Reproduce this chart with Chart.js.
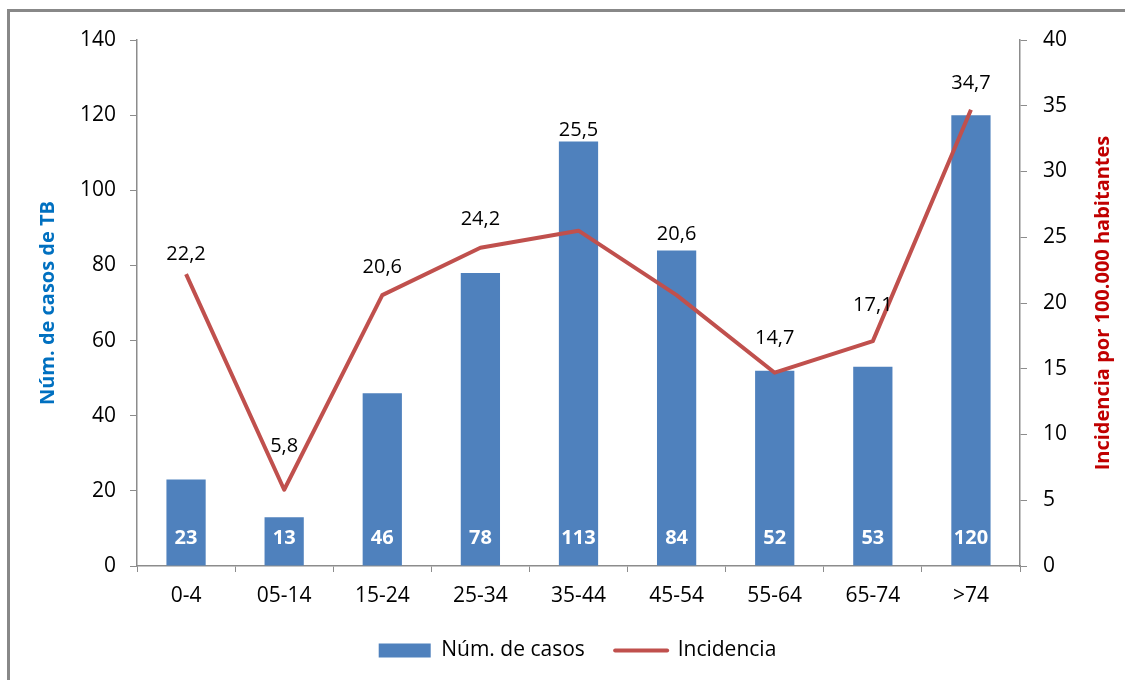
<!DOCTYPE html>
<html>
<head>
<meta charset="utf-8">
<script src="https://cdn.jsdelivr.net/npm/chart.js@4"></script>
<style>
  html, body { margin: 0; padding: 0; background: #fff; overflow: hidden; }
  #wrap { position: relative; width: 1125px; height: 680px; }
</style>
</head>
<body>
<div id="wrap"><canvas id="tbChart" width="1125" height="680"></canvas></div>
<script>
// age groups and values
const ageGroups = ["0-4", "05-14", "15-24", "25-34", "35-44", "45-54", "55-64", "65-74", ">74"];
const casos = [23, 13, 46, 78, 113, 84, 52, 53, 120];
const incidencia = [22.2, 5.8, 20.6, 24.2, 25.5, 20.6, 14.7, 17.1, 34.7];

// how far (px) each incidence label sits above its point, as placed in the original
const labelLift = [20, 43, 28, 28, 100, 61, 34, 36, 26];

const FONT = "'Open Sans', sans-serif";
const BLUE = "#4F81BD";
const RED = "#C0504D";
const AXIS = "#8C8C8C";

const fmt = v => String(v).replace(".", ",");

// frame + right axis title (Excel rotates it bottom-to-top)
const framePlugin = {
    id: "frame",
    beforeDraw(chart) {
        const ctx = chart.ctx;
        ctx.save();
        ctx.fillStyle = "#888";
        ctx.fillRect(7, 9, 3, 680);
        ctx.fillRect(7, 9, 1125, 3);
        ctx.restore();
    },
    afterDraw(chart) {
        const ctx = chart.ctx;
        const area = chart.chartArea;
        ctx.save();
        ctx.translate(1103, (area.top + area.bottom) / 2);
        ctx.rotate(-Math.PI / 2);
        ctx.font = "bold 20px " + FONT;
        ctx.fillStyle = "#C00000";
        ctx.textAlign = "center";
        ctx.textBaseline = "middle";
        ctx.fillText("Incidencia por 100.000 habitantes", 0, 0);
        ctx.restore();
    }
};

// value labels: white inside the bars, black above the line
const labelPlugin = {
    id: "valueLabels",
    afterDatasetsDraw(chart) {
        const ctx = chart.ctx;
        const bars = chart.getDatasetMeta(0).data;
        const pts = chart.getDatasetMeta(1).data;
        ctx.save();
        ctx.textAlign = "center";
        ctx.textBaseline = "middle";

        ctx.font = "bold 20px " + FONT;
        ctx.fillStyle = "#fff";
        bars.forEach((b, i) => {
            ctx.fillText(casos[i], b.x, b.base - 27);
        });

        ctx.font = "20px " + FONT;
        ctx.fillStyle = "#000";
        pts.forEach((p, i) => {
            ctx.fillText(fmt(incidencia[i]), p.x, p.y - labelLift[i]);
        });
        ctx.restore();
    }
};

new Chart(document.getElementById("tbChart"), {
    data: {
        labels: ageGroups,
        datasets: [
            {
                type: "bar",
                label: "Núm. de casos",
                data: casos,
                yAxisID: "y",
                backgroundColor: BLUE,
                barPercentage: 0.4,
                categoryPercentage: 1,
                order: 1
            },
            {
                type: "line",
                label: "Incidencia",
                data: incidencia,
                yAxisID: "y1",
                borderColor: RED,
                borderWidth: 4,
                borderJoinStyle: "round",
                pointRadius: 0,
                tension: 0,
                order: 0
            }
        ]
    },
    options: {
        responsive: false,
        animation: false,
        layout: { padding: { left: 30, right: 0, top: 40, bottom: 9 } },
        plugins: {
            tooltip: { enabled: false },
            legend: {
                position: "bottom",
                labels: {
                    usePointStyle: true,
                    pointStyleWidth: 52,
                    boxHeight: 14,
                    padding: 14,
                    color: "#000",
                    font: { family: FONT, size: 21 },
                    generateLabels(chart) {
                        return chart.data.datasets.map((ds, i) => ({
                            // trailing spaces widen the gap before the next item
                            text: ds.type === "bar" ? ds.label + "   " : ds.label,
                            datasetIndex: i,
                            fillStyle: ds.type === "bar" ? BLUE : RED,
                            strokeStyle: ds.type === "bar" ? BLUE : RED,
                            lineWidth: ds.type === "bar" ? 0 : 4,
                            lineCap: "round",
                            pointStyle: ds.type === "bar" ? "rect" : "line",
                            fontColor: "#000"
                        }));
                    }
                }
            }
        },
        scales: {
            x: {
                grid: { drawOnChartArea: false, drawTicks: true, tickLength: 6, color: AXIS },
                border: { color: AXIS, width: 1.5 },
                ticks: { color: "#000", padding: 11, font: { family: FONT, size: 21 } },
                afterFit(scale) { scale.height = 60; }
            },
            y: {
                position: "left",
                min: 0,
                max: 140,
                ticks: { stepSize: 20, color: "#000", padding: 14, font: { family: FONT, size: 21 } },
                grid: { drawOnChartArea: false, tickLength: 7, color: AXIS },
                border: { color: AXIS, width: 1.5 },
                title: {
                    display: true,
                    text: "Núm. de casos de TB",
                    color: "#0070C0",
                    font: { family: FONT, size: 20, weight: "bold" },
                    padding: { top: 6, bottom: 0 }
                },
                afterFit(scale) { scale.width = 107; }
            },
            y1: {
                position: "right",
                min: 0,
                max: 40,
                ticks: { stepSize: 5, color: "#000", padding: 16, font: { family: FONT, size: 21 } },
                grid: { drawOnChartArea: false, tickLength: 7, color: AXIS },
                border: { color: AXIS, width: 1.5 },
                afterFit(scale) { scale.width = 105; }
            }
        }
    },
    plugins: [framePlugin, labelPlugin]
});
</script>
</body>
</html>
